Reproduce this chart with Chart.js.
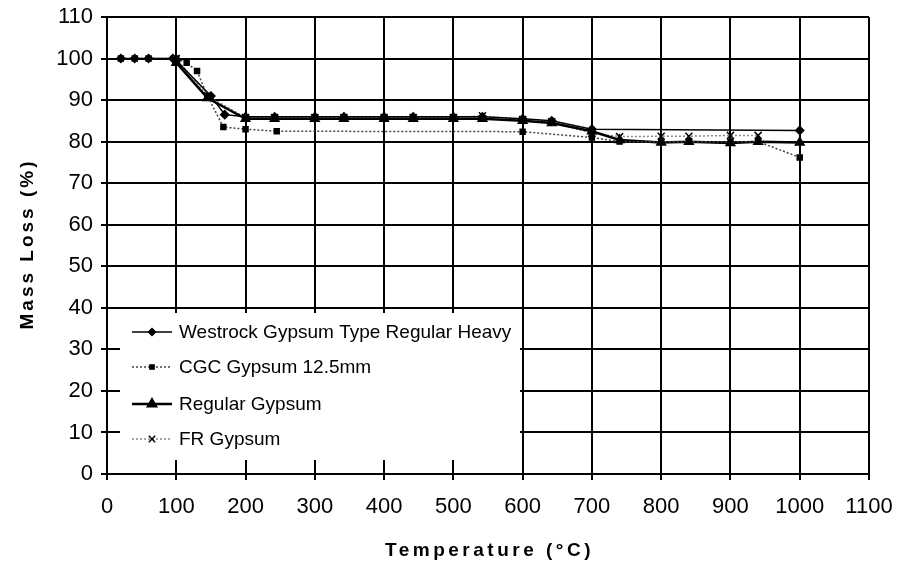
<!DOCTYPE html>
<html>
<head>
<meta charset="utf-8">
<script src="https://cdn.jsdelivr.net/npm/chart.js@4.4.1/dist/chart.umd.min.js"></script>
<style>
  html, body { margin: 0; padding: 0; background: #fff; }
  #wrap { width: 902px; height: 571px; position: relative; }
</style>
</head>
<body>
<div id="wrap"><canvas id="massChart"></canvas></div>
<script>
// Dane (temperatura w °C, ubytek masy w %)
const westrockTemp = [20, 40, 60, 95, 100, 150, 170, 200, 242, 300, 342, 400, 442, 500, 542, 600, 642, 700, 1000];
const westrockMass = [100, 100, 100, 100, 99.5, 91, 86.5, 86, 86, 86, 86, 86, 86, 86, 86, 85.5, 85, 83, 82.7];

const cgcTemp = [20, 40, 60, 100, 115, 130, 145, 168, 200, 245, 600, 700, 740, 800, 840, 900, 940, 1000];
const cgcMass = [100, 100, 100, 100, 99, 97, 91, 83.5, 83, 82.5, 82.4, 81, 80, 80, 80, 80, 80, 76.2];

const regularTemp = [100, 145, 200, 242, 300, 342, 400, 442, 500, 542, 600, 642, 700, 740, 800, 840, 900, 940, 1000];
const regularMass = [99, 90.5, 85.5, 85.5, 85.5, 85.5, 85.5, 85.5, 85.5, 85.5, 85, 84.5, 82.5, 80.4, 79.8, 80, 79.7, 80, 79.8];

const frTemp = [100, 145, 200, 242, 300, 342, 400, 442, 500, 542, 600, 642, 700, 740, 800, 840, 900, 940];
const frMass = [100, 91, 85.8, 85.8, 85.8, 85.8, 85.8, 85.8, 85.8, 86.2, 85.3, 84.8, 82, 81.2, 81.3, 81.3, 81.5, 81.5];

const seriesNames = ['Westrock Gypsum Type Regular Heavy', 'CGC Gypsum 12.5mm', 'Regular Gypsum', 'FR Gypsum'];

const xTitle = 'Temperature (°C)';
const yTitle = 'Mass Loss (%)';

function toPoints(xs, ys) {
    return xs.map((x, i) => ({ x: x, y: ys[i] }));
}

const seriesStyles = [
    { color: '#000', width: 1.5, dash: [], point: 'rectRot', radius: 4 },
    { color: '#444', width: 1.5, dash: [2, 2], point: 'rect', radius: 3.5 },
    { color: '#000', width: 2.5, dash: [], point: 'triangle', radius: 5 },
    { color: '#888', width: 1.5, dash: [2, 2], point: 'crossRot', radius: 5 }
];

const seriesData = [
    toPoints(westrockTemp, westrockMass),
    toPoints(cgcTemp, cgcMass),
    toPoints(regularTemp, regularMass),
    toPoints(frTemp, frMass)
];

const datasets = seriesNames.map((name, i) => ({
    label: name,
    data: seriesData[i],
    borderColor: seriesStyles[i].color,
    borderWidth: seriesStyles[i].width,
    borderDash: seriesStyles[i].dash,
    pointStyle: seriesStyles[i].point,
    pointRadius: seriesStyles[i].radius,
    pointBackgroundColor: '#000',
    pointBorderColor: '#000',
    pointBorderWidth: 1.5,
    tension: 0,
    fill: false
}));

// Legenda w obszarze wykresu + tytuły osi z rozstrzelonymi literami
const insideLegend = {
    id: 'insideLegend',
    afterDraw(chart) {
        const ctx = chart.ctx;
        const area = chart.chartArea;
        ctx.save();
        ctx.fillStyle = '#fff';
        ctx.fillRect(120, 313, 400, 147);

        const rows = [332, 367, 404, 439];
        ctx.font = '19px "Liberation Sans", Arial, sans-serif';
        ctx.textBaseline = 'middle';
        ctx.textAlign = 'left';
        rows.forEach((y, i) => {
            const st = seriesStyles[i];
            ctx.strokeStyle = st.color;
            ctx.lineWidth = st.width;
            ctx.setLineDash(st.dash);
            ctx.beginPath();
            ctx.moveTo(132, y);
            ctx.lineTo(172, y);
            ctx.stroke();
            ctx.setLineDash([]);
            ctx.fillStyle = '#000';
            ctx.strokeStyle = '#000';
            Chart.helpers.drawPoint(ctx, {
                pointStyle: st.point,
                radius: st.radius - 0.5,
                borderWidth: 1.5
            }, 152, y);
            ctx.fillText(seriesNames[i], 179, y + 1);
        });

        // tytuły osi
        ctx.letterSpacing = '3.5px';
        ctx.fillStyle = '#000';
        ctx.font = 'bold 19px "Liberation Sans", Arial, sans-serif';
        ctx.textAlign = 'center';
        ctx.textBaseline = 'middle';
        ctx.fillText(xTitle, (area.left + area.right) / 2 + 1.5, 551);
        ctx.letterSpacing = '3px';
        ctx.translate(28, (area.top + area.bottom) / 2);
        ctx.rotate(-Math.PI / 2);
        ctx.fillText(yTitle, 1.5, 0);
        ctx.restore();
    }
};

const gridStyle = {
    color: '#000',
    lineWidth: 2,
    tickLength: 6,
    tickColor: '#000',
    tickWidth: 2
};

const plainLabel = value => String(value);

new Chart(document.getElementById('massChart'), {
    type: 'line',
    data: { datasets: datasets },
    options: {
        responsive: true,
        maintainAspectRatio: false,
        animation: false,
        layout: { padding: { top: 17, right: 33, left: 0, bottom: 0 } },
        plugins: {
            legend: { display: false },
            tooltip: { enabled: false }
        },
        scales: {
            x: {
                type: 'linear',
                min: 0,
                max: 1100,
                grid: gridStyle,
                border: { color: '#000', width: 2 },
                ticks: {
                    stepSize: 100,
                    color: '#000',
                    padding: 14,
                    maxRotation: 0,
                    callback: plainLabel,
                    font: { family: '"Liberation Sans", Arial, sans-serif', size: 22 }
                },
                afterFit(scale) {
                    scale.height = 97;
                    scale.paddingRight = 0;
                    scale.paddingLeft = 0;
                }
            },
            y: {
                min: 0,
                max: 110,
                grid: gridStyle,
                border: { color: '#000', width: 2 },
                ticks: {
                    stepSize: 10,
                    color: '#000',
                    padding: 8,
                    callback: plainLabel,
                    font: { family: '"Liberation Sans", Arial, sans-serif', size: 22 }
                },
                afterFit(scale) {
                    scale.width = 107;
                    scale.paddingTop = 0;
                    scale.paddingBottom = 0;
                }
            }
        }
    },
    plugins: [insideLegend]
});
</script>
</body>
</html>
